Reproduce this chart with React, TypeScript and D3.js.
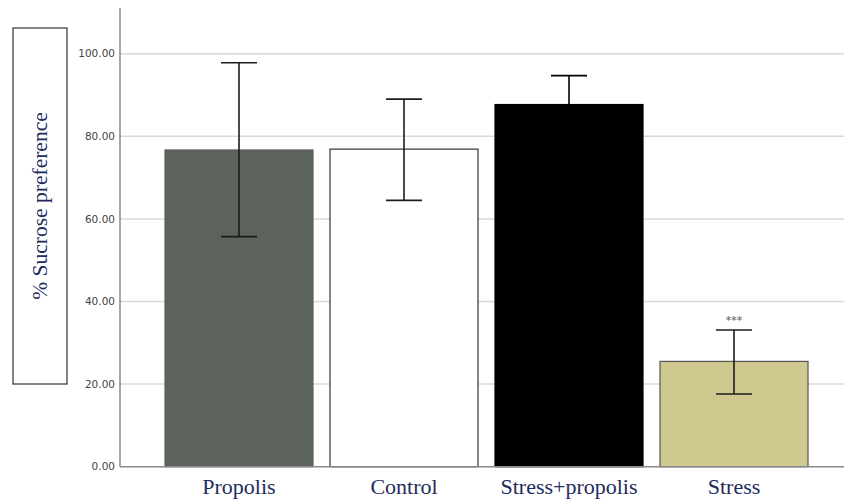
import React from "react";
import * as d3 from "d3";

const categories = ["Propolis", "Control", "Stress+propolis", "Stress"];
const means = [76.7, 76.9, 87.7, 25.5];
const errUpper = [97.8, 89.0, 94.7, 33.1];
const errLower = [55.7, 64.5, 80.7, 17.6];
const fills = ["#5b635c", "#ffffff", "#000000", "#d0c98f"];
const strokes = ["#5b635c", "#333333", "#000000", "#555555"];
const significance = ["", "", "", "***"];
const yTicks = [0, 20, 40, 60, 80, 100];

const W = 844;
const H = 500;

export default function App() {
  const y = d3.scaleLinear().domain([0, 111]).range([466.7, 8.3]);
  const x = d3
    .scaleBand<string>()
    .domain(categories)
    .range([156.5, 816.5])
    .paddingInner(0.103)
    .paddingOuter(0.0515);
  const axisX = 120;
  const navy = "#222c5c";
  return (
    <svg
      width={W}
      height={H}
      style={{ position: "absolute", left: 0, top: 0, background: "#fff" }}
    >
      {yTicks
        .filter((t) => t > 0)
        .map((t) => (
          <line
            key={"g" + t}
            x1={axisX}
            x2={W}
            y1={y(t)}
            y2={y(t)}
            stroke="#d9d9d9"
            strokeWidth={1.5}
          />
        ))}
      {categories.map((c, i) => (
        <rect
          key={"b" + c}
          x={x(c)}
          y={y(means[i])}
          width={x.bandwidth()}
          height={y(0) - y(means[i])}
          fill={fills[i]}
          stroke={strokes[i]}
          strokeWidth={1.2}
        />
      ))}
      {categories.map((c, i) => {
        const cx = (x(c) as number) + x.bandwidth() / 2;
        return (
          <g key={"e" + c} stroke={fills[i] === "#000000" ? "#000" : "#1c1c1c"} strokeWidth={1.6}>
            <line x1={cx} x2={cx} y1={y(errUpper[i])} y2={y(errLower[i])} />
            <line x1={cx - 18} x2={cx + 18} y1={y(errUpper[i])} y2={y(errUpper[i])} />
            <line x1={cx - 18} x2={cx + 18} y1={y(errLower[i])} y2={y(errLower[i])} />
          </g>
        );
      })}
      {categories.map((c, i) =>
        significance[i] ? (
          <text
            key={"s" + c}
            x={(x(c) as number) + x.bandwidth() / 2}
            y={y(errUpper[i]) - 6}
            textAnchor="middle"
            fontFamily="DejaVu Sans"
            fontSize={11}
            fill="#555"
          >
            {significance[i]}
          </text>
        ) : null
      )}
      <line x1={axisX} x2={axisX} y1={8} y2={y(0)} stroke="#8a8a8a" strokeWidth={1.5} />
      <line x1={axisX} x2={W} y1={y(0)} y2={y(0)} stroke="#8a8a8a" strokeWidth={1.5} />
      {yTicks.map((t) => (
        <text
          key={"t" + t}
          x={115}
          y={y(t)}
          dy="0.35em"
          textAnchor="end"
          fontFamily="DejaVu Sans"
          fontSize={10.5}
          fill="#444"
        >
          {d3.format(".2f")(t)}
        </text>
      ))}
      {categories.map((c) => (
        <text
          key={"c" + c}
          x={(x(c) as number) + x.bandwidth() / 2}
          y={494}
          textAnchor="middle"
          fontFamily="Liberation Serif"
          fontSize={22}
          fill={navy}
        >
          {c}
        </text>
      ))}
      <rect x={13} y={28} width={54} height={356} fill="#fff" stroke="#333" strokeWidth={1.2} />
      <text
        transform={`translate(47,206) rotate(-90)`}
        textAnchor="middle"
        fontFamily="Liberation Serif"
        fontSize={21.5}
        fill={navy}
      >
        % Sucrose preference
      </text>
    </svg>
  );
}
